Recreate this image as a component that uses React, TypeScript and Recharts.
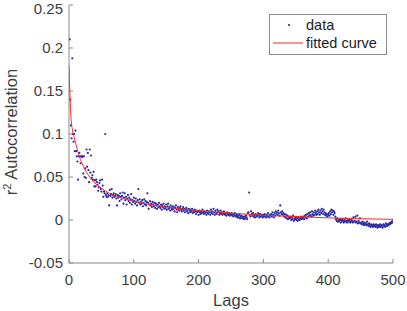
import React from "react";
import {
  ComposedChart,
  Scatter,
  Line,
  XAxis,
  YAxis,
  Label,
} from "recharts";

// r^2 autocorrelation per lag (lags 1..500)
const r2Values = [
  0.21, 0.14, 0.11, 0.095, 0.188, 0.1, 0.091, 0.1, 0.08, 0.104,
  0.08, 0.074, 0.068, 0.047, 0.074, 0.078, 0.074, 0.066, 0.074, 0.073,
  0.074, 0.054, 0.074, 0.05, 0.06, 0.049, 0.082, 0.062, 0.078, 0.058,
  0.044, 0.082, 0.055, 0.075, 0.049, 0.052, 0.047, 0.056, 0.039, 0.046,
  0.039, 0.047, 0.044, 0.041, 0.034, 0.038, 0.043, 0.046, 0.036, 0.033,
  0.047, 0.04, 0.027, 0.033, 0.031, 0.1, 0.029, 0.027, 0.031, 0.027,
  0.029, 0.017, 0.035, 0.028, 0.03, 0.036, 0.026, 0.029, 0.031, 0.027,
  0.028, 0.03, 0.025, 0.017, 0.029, 0.026, 0.028, 0.022, 0.031, 0.027,
  0.024, 0.028, 0.032, 0.019, 0.026, 0.031, 0.023, 0.027, 0.018, 0.025,
  0.029, 0.022, 0.026, 0.02, 0.024, 0.03, 0.018, 0.023, 0.021, 0.026,
  0.022, 0.019, 0.025, 0.021, 0.017, 0.023, 0.036, 0.02, 0.024, 0.018,
  0.021, 0.019, 0.023, 0.016, 0.02, 0.024, 0.018, 0.022, 0.017, 0.021,
  0.031, 0.02, 0.013, 0.018, 0.022, 0.017, 0.019, 0.015, 0.021, 0.018,
  0.016, 0.02, 0.014, 0.019, 0.017, 0.013, 0.018, 0.015, 0.02, 0.016,
  0.014, 0.018, 0.012, 0.017, 0.015, 0.019, 0.013, 0.016, 0.014, 0.018,
  0.012, 0.016, 0.019, 0.013, 0.015, 0.011, 0.017, 0.014, 0.012, 0.016,
  0.013, 0.015, 0.01, 0.014, 0.017, 0.012, 0.009, 0.015, 0.013, 0.011,
  0.014, 0.016, 0.012, 0.01, 0.013, 0.015, 0.011, 0.013, 0.009, 0.012,
  0.014, 0.01, 0.012, 0.008, 0.013, 0.011, 0.009, 0.012, 0.01, 0.013,
  0.008, 0.011, 0.009, 0.012, 0.01, 0.007, 0.011, 0.009, 0.01, 0.006,
  0.011, 0.009, 0.007, 0.01, 0.008, 0.012, 0.009, 0.007, 0.01, 0.008,
  0.009, 0.006, 0.011, 0.008, 0.007, 0.01, 0.009, 0.006, 0.012, 0.008,
  0.01, 0.007, 0.013, 0.009, 0.006, 0.011, 0.008, 0.007, 0.012, 0.009,
  0.01, 0.006, 0.008, 0.011, 0.007, 0.009, 0.006, 0.008, 0.01, 0.007,
  0.006, 0.008, 0.005, 0.009, 0.007, 0.006, 0.008, 0.005, 0.007, 0.006,
  0.008, 0.005, 0.007, 0.004, 0.006, 0.008, 0.005, 0.004, 0.006, 0.003,
  0.005, 0.003, 0.006, 0.002, 0.004, 0.005, 0.002, 0.004, 0.003, 0.001,
  0.004, 0.002, 0.005, 0.003, 0.001, 0.008, 0.009, 0.032, 0.006, 0.004,
  0.01, 0.007, 0.005, 0.008, 0.004, 0.006, 0.003, 0.007, 0.005, 0.004,
  0.006, 0.008, 0.005, 0.003, 0.007, 0.004, 0.006, 0.005, 0.003, 0.006,
  0.004, 0.007, 0.005, 0.003, 0.006, 0.004, 0.008, 0.005, 0.003, 0.006,
  0.005, 0.007, 0.004, 0.009, 0.006, 0.003, 0.008, 0.005, 0.01, 0.007,
  0.009, 0.006, 0.011, 0.008, 0.005, 0.017, 0.009, 0.007, 0.01, 0.006,
  0.008, 0.004, 0.007, 0.003, 0.006, 0.002, 0.005, 0.001, 0.004, 0.003,
  0.002, 0.004, 0.0, 0.003, 0.001, 0.005, -0.001, 0.002, 0.001, 0.003,
  0.0, 0.002, -0.001, 0.003, 0.001, 0.0, 0.002, 0.004, 0.001, 0.003,
  0.002, 0.004, 0.001, 0.005, 0.003, 0.006, 0.002, 0.007, 0.004, 0.008,
  0.005, 0.009, 0.006, 0.004, 0.01, 0.007, 0.005, 0.009, 0.006, 0.011,
  0.008, 0.006, 0.01, 0.007, 0.012, 0.009, 0.006, 0.011, 0.008, 0.013,
  0.01, 0.007, 0.012, 0.009, 0.006, 0.008, 0.005, 0.007, 0.004, 0.006,
  0.008, 0.005, 0.01, 0.007, 0.012, 0.009, 0.011, 0.006, 0.01, 0.008,
  0.004, 0.001, -0.001, 0.002, -0.002, 0.0, -0.001, 0.001, -0.003, 0.0,
  -0.002, 0.001, -0.001, -0.003, 0.0, -0.002, 0.002, -0.001, -0.003, 0.0,
  -0.002, -0.001, 0.001, -0.003, -0.002, 0.0, -0.001, -0.003, 0.003, -0.002,
  -0.001, 0.004, -0.003, -0.002, 0.005, -0.004, -0.001, -0.003, 0.002, -0.004,
  -0.003, -0.005, -0.002, -0.004, -0.006, -0.003, -0.005, -0.004, -0.006, -0.002,
  -0.005, -0.007, -0.004, -0.006, -0.008, -0.005, -0.007, -0.006, -0.008, -0.005,
  -0.007, -0.006, -0.008, -0.005, -0.007, -0.009, -0.006, -0.008, -0.007, -0.005,
  -0.008, -0.006, -0.007, -0.009, -0.005, -0.007, -0.006, -0.008, -0.004, -0.006,
  -0.007, -0.005, -0.006, -0.004, -0.005, -0.003, -0.004, -0.002, -0.003, 0.0,
];

// fitted curve, sampled along the red line
const fitLags = [0, 1, 2, 3, 5, 8, 10, 15, 20, 30, 40, 50, 60, 80, 100, 125, 150, 200, 250, 300, 350, 400, 450, 500];
const fitValues = [0.18, 0.155, 0.135, 0.12, 0.106, 0.096, 0.09, 0.076, 0.066, 0.052, 0.043, 0.037, 0.032, 0.026, 0.022, 0.018, 0.015, 0.011, 0.008, 0.0055, 0.004, 0.0025, 0.0015, 0.0008];

const xTicks = [0, 100, 200, 300, 400, 500];
const yTicks = [-0.05, 0, 0.05, 0.1, 0.15, 0.2, 0.25];

const scatterData = r2Values.map((v, i) => ({ lag: i + 1, r2: v }));
const fitData = fitLags.map((lag, i) => ({ lag, r2: fitValues[i] }));

const FONT = "Helvetica, Arial, 'Liberation Sans', sans-serif";
const AXIS = "#8a8a8a";
const TEXT = "#404040";
const DOT = "#2a2aa0";
const RED = "#f52a2a";

const Dot = (props: any) => <circle cx={props.cx} cy={props.cy} r={1.1} fill={DOT} />;

const YLabel = (props: any) => {
  const vb = props.viewBox;
  const cx = vb.x + 17;
  const cy = vb.y + vb.height / 2 - 2;
  return (
    <text
      x={cx}
      y={cy}
      transform={`rotate(-90 ${cx} ${cy})`}
      textAnchor="middle"
      fill={TEXT}
      fontSize={16.5}
      fontFamily={FONT}
    >
      <tspan>r</tspan>
      <tspan dy={-6} fontSize={11}>2</tspan>
      <tspan dy={6}> Autocorrelation</tspan>
    </text>
  );
};

const XLabel = (props: any) => {
  const vb = props.viewBox;
  return (
    <text
      x={vb.x + vb.width / 2}
      y={vb.y + 43}
      textAnchor="middle"
      fill={TEXT}
      fontSize={16.5}
      fontFamily={FONT}
    >
      Lags
    </text>
  );
};

function LegendBox() {
  return (
    <svg
      width={118}
      height={41}
      style={{ position: "absolute", left: 269, top: 14, display: "block" }}
    >
      <rect x={0.5} y={0.5} width={117} height={40} fill="#fff" stroke={AXIS} />
      <circle cx={20} cy={11} r={1.1} fill={DOT} />
      <text x={37} y={16} fontSize={14.5} fill="#222" fontFamily={FONT}>data</text>
      <line x1={4} x2={34} y1={29} y2={29} stroke={RED} strokeWidth={1} />
      <text x={37} y={34} fontSize={14.5} fill="#222" fontFamily={FONT}>fitted curve</text>
    </svg>
  );
}

export default function App() {
  return (
    <div style={{ position: "absolute", left: 0, top: 0, width: 407, height: 311, background: "#fff" }}>
      <ComposedChart width={407} height={311} margin={{ top: 5, right: 14, bottom: 0, left: 0 }}>
        <XAxis
          dataKey="lag"
          type="number"
          domain={[0, 500]}
          ticks={xTicks}
          allowDataOverflow
          height={48}
          stroke={AXIS}
          tickSize={-4}
          tickMargin={15}
          tick={{ fill: TEXT, fontSize: 15, fontFamily: FONT }}
        >
          <Label content={<XLabel />} />
        </XAxis>
        <XAxis
          xAxisId="top"
          orientation="top"
          type="number"
          domain={[0, 500]}
          ticks={xTicks}
          height={0}
          stroke={AXIS}
          tickSize={-4}
          tick={false}
        />
        <YAxis
          dataKey="r2"
          type="number"
          domain={[-0.05, 0.25]}
          ticks={yTicks}
          allowDataOverflow
          width={69}
          stroke={AXIS}
          tickSize={-4}
          tickMargin={10}
          tick={{ fill: TEXT, fontSize: 15, fontFamily: FONT }}
        >
          <Label content={<YLabel />} />
        </YAxis>
        <YAxis
          yAxisId="right"
          orientation="right"
          type="number"
          domain={[-0.05, 0.25]}
          ticks={yTicks}
          width={0}
          stroke={AXIS}
          tickSize={-4}
          tick={false}
        />
        <Scatter
          name="data"
          data={scatterData}
          dataKey="r2"
          shape={<Dot />}
          isAnimationActive={false}
        />
        <Line
          name="fitted curve"
          data={fitData}
          dataKey="r2"
          type="monotone"
          stroke={RED}
          strokeWidth={1}
          dot={false}
          activeDot={false}
          zIndex={700}
          isAnimationActive={false}
        />
      </ComposedChart>
      <LegendBox />
    </div>
  );
}
